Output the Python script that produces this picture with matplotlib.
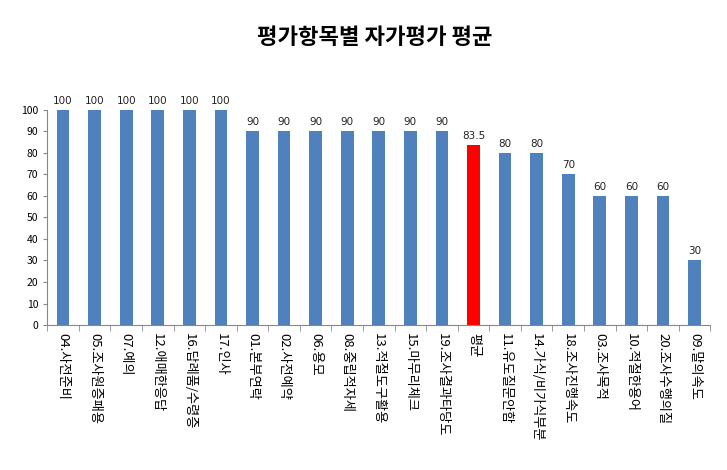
import numpy as np
import matplotlib.pyplot as plt

plt.rcParams['font.family'] = ['Noto Sans CJK KR', 'DejaVu Sans']

labels = ["04.사전준비", "05.조사원증패용", "07.예의", "12.애매한응답", "16.답례품/수령증",
          "17.인사", "01.본부연락", "02.사전예약", "06.용모", "08.중립적자세",
          "13.적절도구활용", "15.마무리체크", "19.조사결과타당도", "평균", "11.유도질문안함",
          "14.가식/비가식부분", "18.조사진행속도", "03.조사목적", "10.적절한용어",
          "20.조사수행의질", "09.말의속도"]
values = [100, 100, 100, 100, 100, 100, 90, 90, 90, 90, 90, 90, 90, 83.5,
          80, 80, 70, 60, 60, 60, 30]
highlight = "평균"

fig = plt.figure(figsize=(7.27, 4.70), dpi=100)
ax = fig.add_axes([0.065, 0.3085, 0.912, 0.4575])

x = np.arange(len(labels))
colors = ["#FF0000" if l == highlight else "#4F81BD" for l in labels]
ax.bar(x, values, width=0.4, color=colors)

for xi, v in zip(x, values):
    txt = f"{v:g}"
    ax.text(xi, v + 2, txt, ha="center", va="bottom", fontsize=7.5, color="#222222",
            family="DejaVu Sans")

ax.set_xlim(-0.5, len(labels) - 0.5)
ax.set_ylim(0, 100)
ax.set_yticks(np.arange(0, 101, 10))
ax.tick_params(axis="y", labelsize=7.5, length=3, color="#888888")
ax.set_xticks(x)
ax.set_xticklabels(labels, rotation=270, fontsize=9.5, va="top", ha="center")
ax.set_xticks(np.arange(-0.5, len(labels), 1), minor=True)
ax.tick_params(axis="x", which="major", length=0, pad=6)
ax.tick_params(axis="x", which="minor", length=4, color="#888888")

for s in ["top", "right"]:
    ax.spines[s].set_visible(False)
for s in ["left", "bottom"]:
    ax.spines[s].set_color("#888888")

fig.text(0.515, 0.92, "평가항목별 자가평가 평균", ha="center", va="center",
         fontsize=16, fontweight="bold")

fig.savefig("out.png", dpi=100)
